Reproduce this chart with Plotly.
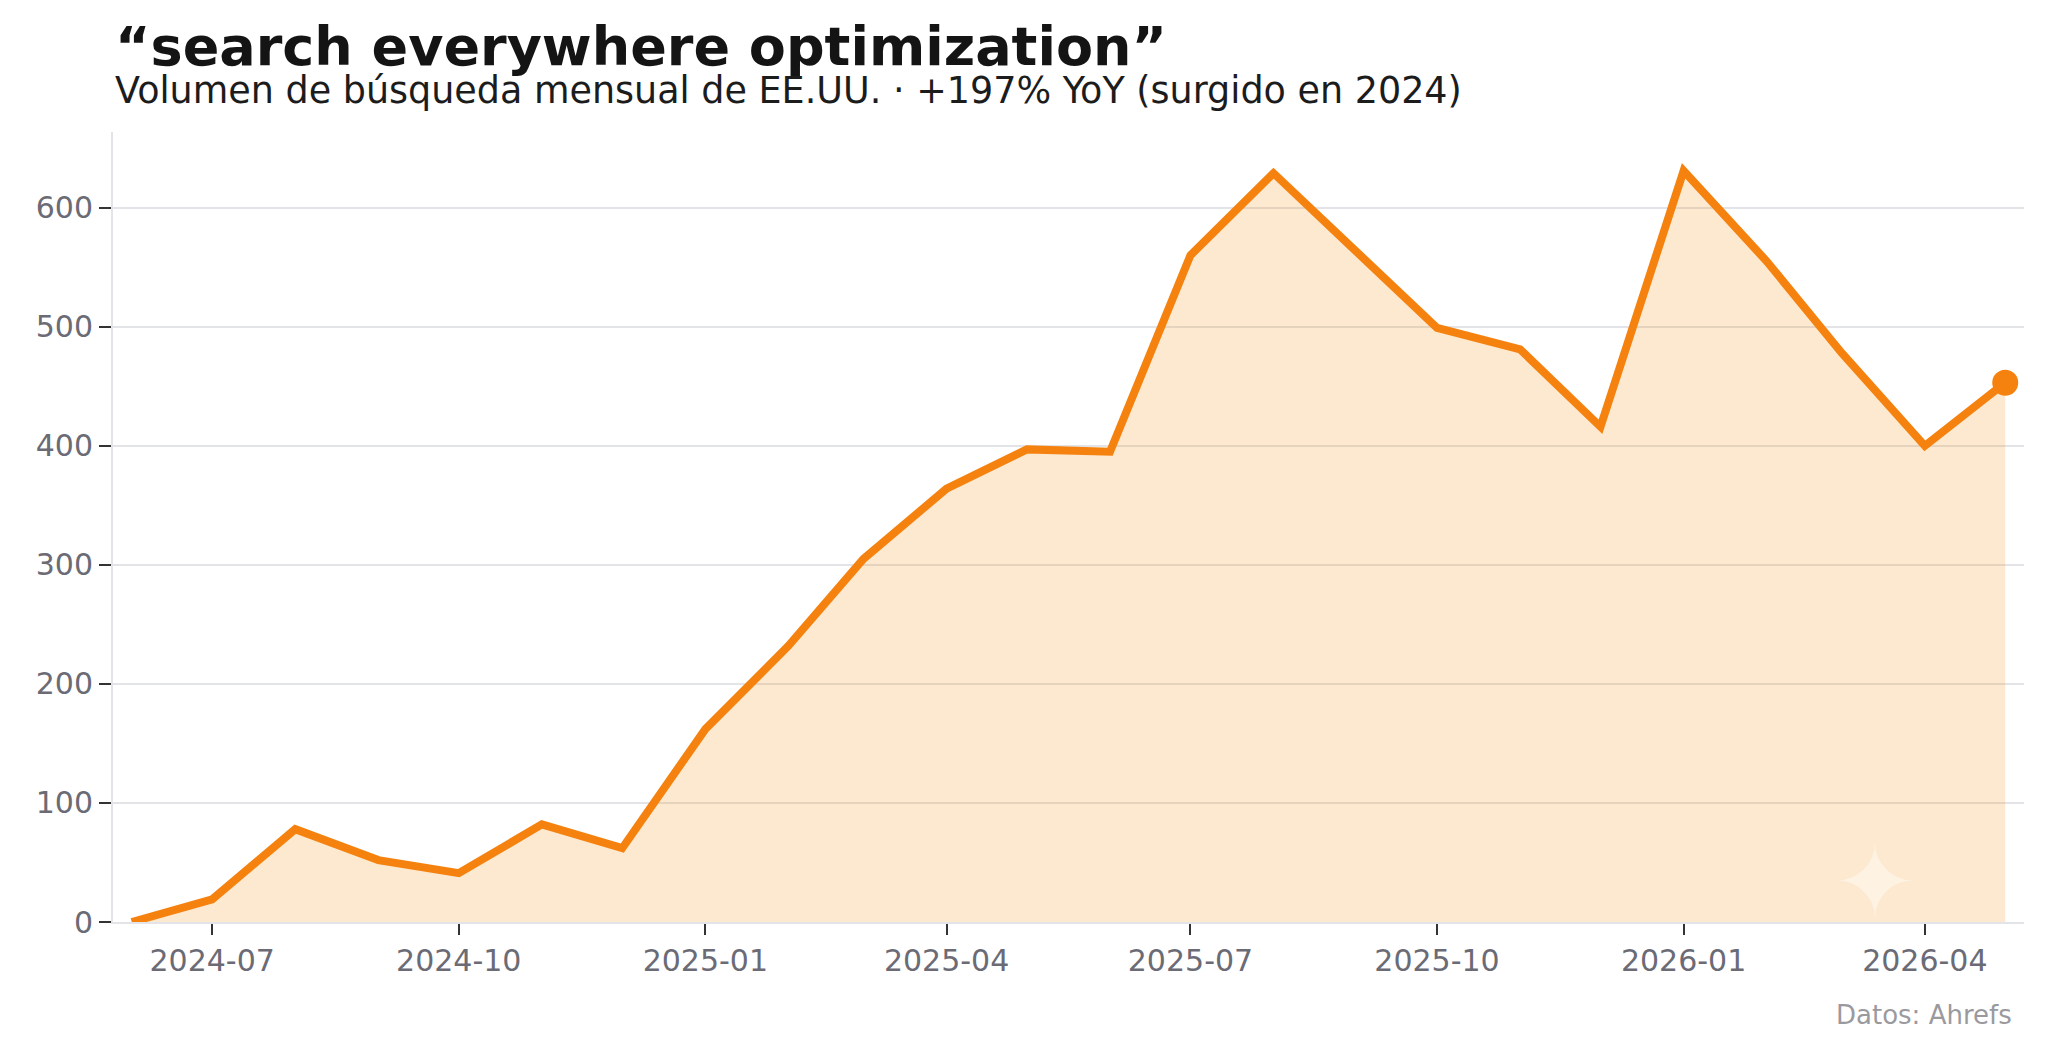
import plotly.graph_objects as go

# ---- data ----
months = [
    "2024-06-01", "2024-07-01", "2024-08-01", "2024-09-01", "2024-10-01", "2024-11-01",
    "2024-12-01", "2025-01-01", "2025-02-01", "2025-03-01", "2025-04-01", "2025-05-01",
    "2025-06-01", "2025-07-01", "2025-08-01", "2025-09-01", "2025-10-01", "2025-11-01",
    "2025-12-01", "2026-01-01", "2026-02-01", "2026-03-01", "2026-04-01", "2026-05-01",
]
volume = [0, 19, 78, 52, 41, 82, 62, 162, 232, 305, 364, 397,
          395, 560, 629, 562, 499, 481, 416, 631, 555, 478, 400, 453]

x_tick_vals = ["2024-07-01", "2024-10-01", "2025-01-01", "2025-04-01",
               "2025-07-01", "2025-10-01", "2026-01-01", "2026-04-01"]
x_tick_text = ["2024-07", "2024-10", "2025-01", "2025-04",
               "2025-07", "2025-10", "2026-01", "2026-04"]
y_tick_vals = [0, 100, 200, 300, 400, 500, 600]

title_text = "“search everywhere optimization”"
subtitle_text = "Volumen de búsqueda mensual de EE.UU. · +197% YoY (surgido en 2024)"
source_text = "Datos: Ahrefs"

ORANGE = "#f5820f"
FONT = "DejaVu Sans"

fig = go.Figure()
fig.add_trace(go.Scatter(
    x=months, y=volume, mode="lines",
    line=dict(color=ORANGE, width=8, shape="linear"),
    fill="tozeroy", fillcolor="rgba(245,145,20,0.2)",
    hoverinfo="skip", showlegend=False,
))
fig.add_trace(go.Scatter(
    x=[months[-1]], y=[volume[-1]], mode="markers",
    marker=dict(color=ORANGE, size=26, line=dict(width=0)),
    hoverinfo="skip", showlegend=False,
))

L, R, T, B = 113, 24, 132, 134
W, H = 2048, 1056
pw = W - L - R
ph = H - T - B

def px_x(X):
    return (X - L) / pw

def px_y(Y):
    return (H - B - Y) / ph

fig.update_layout(
    width=W, height=H,
    margin=dict(l=L, r=R, t=T, b=B, pad=0),
    paper_bgcolor="white", plot_bgcolor="white",
    font=dict(family=FONT, color="#6b6b76"),
    xaxis=dict(
        type="date",
        range=["2024-05-25", "2026-05-08"],
        tickmode="array", tickvals=x_tick_vals, ticktext=x_tick_text,
        showgrid=False, zeroline=False,
        showline=True, linecolor="#e3e4e8", linewidth=2,
        ticks="outside", ticklen=11, tickwidth=2, tickcolor="#333333",
        tickfont=dict(family=FONT, size=30, color="#6b6b76"),
    ),
    yaxis=dict(
        range=[0, 663.6],
        tickmode="array", tickvals=y_tick_vals,
        showgrid=True, gridcolor="#e3e4e8", gridwidth=2,
        zeroline=False,
        showline=True, linecolor="#e3e4e8", linewidth=2,
        ticks="outside", ticklen=12, tickwidth=2, tickcolor="#333333",
        tickfont=dict(family=FONT, size=30, color="#6b6b76"),
    ),
    annotations=[
        dict(text="<b>" + title_text + "</b>", xref="paper", yref="paper",
             x=px_x(113), y=px_y(80), xanchor="left", yanchor="bottom",
             showarrow=False, font=dict(family=FONT, size=54, color="#141414")),
        dict(text=subtitle_text, xref="paper", yref="paper",
             x=px_x(113), y=px_y(114), xanchor="left", yanchor="bottom",
             showarrow=False, font=dict(family=FONT, size=36.5, color="#1c1c1c")),
        dict(text=source_text, xref="paper", yref="paper",
             x=px_x(2014), y=px_y(1032), xanchor="right", yanchor="bottom",
             showarrow=False, font=dict(family=FONT, size=26, color="#9a9a9e")),
        dict(text="✦", xref="paper", yref="paper",
             x=px_x(1875), y=px_y(882), xanchor="center", yanchor="middle",
             showarrow=False, font=dict(family=FONT, size=100, color="rgba(255,255,255,0.4)")),
    ],
)

fig.write_html("out.html")
